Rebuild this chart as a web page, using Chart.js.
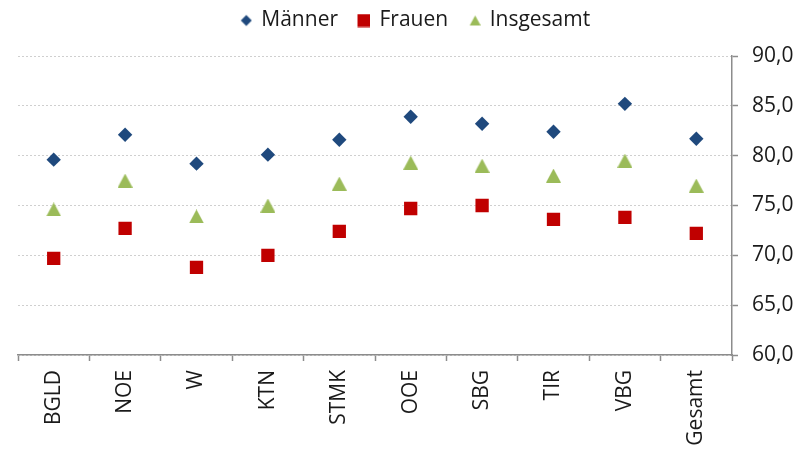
<!DOCTYPE html>
<html>
<head>
<meta charset="utf-8">
<script src="https://cdn.jsdelivr.net/npm/chart.js@4/dist/chart.umd.min.js"></script>
<style>
  html, body { margin: 0; padding: 0; background: #ffffff; }
  #wrap { width: 802px; height: 454px; }
</style>
</head>
<body>
<div id="wrap"><canvas id="c" width="802" height="454"></canvas></div>
<script>
// ---- data ----
const categories = ['BGLD', 'NOE', 'W', 'KTN', 'STMK', 'OOE', 'SBG', 'TIR', 'VBG', 'Gesamt'];
const maenner   = [79.6, 82.1, 79.2, 80.1, 81.6, 83.9, 83.2, 82.4, 85.2, 81.7];
const frauen    = [69.7, 72.7, 68.8, 70.0, 72.4, 74.7, 75.0, 73.6, 73.8, 72.2];
const insgesamt = [74.6, 77.5, 73.9, 75.0, 77.2, 79.3, 79.0, 78.0, 79.5, 77.0];
const seriesNames = ['Männer', 'Frauen', 'Insgesamt'];
const yMin = 60, yMax = 90, yStep = 5;

const FONT = "'Open Sans', sans-serif";
const TEXT = '#1a1a1a';
const AXIS = '#8c8c8c';
const colBlue = '#1f497d', colRed = '#c00000', colGreen = '#9bbb59';

// legend marker images (marker drawn at right side of a wider box)
function legendMarker(kind, color) {
  const c = document.createElement('canvas');
  c.width = 24; c.height = 14;
  const g = c.getContext('2d');
  g.fillStyle = color;
  g.beginPath();
  if (kind === 'diamond') {
    const cx = 18, cy = 7, r = 5.5;
    g.moveTo(cx, cy - r); g.lineTo(cx + r, cy); g.lineTo(cx, cy + r); g.lineTo(cx - r, cy); g.closePath();
  } else if (kind === 'square') {
    g.rect(11, 0.5, 13, 13);
  } else {
    g.moveTo(18.5, 2); g.lineTo(24, 12); g.lineTo(13, 12); g.closePath();
  }
  g.fill();
  return c;
}
const legendImgs = [legendMarker('diamond', colBlue), legendMarker('square', colRed), legendMarker('triangle', colGreen)];

// plot marker for the triangle series (box-centred like the original)
function triangleMarker(color) {
  const c = document.createElement('canvas');
  c.width = 15; c.height = 14;
  const g = c.getContext('2d');
  g.fillStyle = color;
  g.beginPath();
  g.moveTo(7.5, 0); g.lineTo(15, 14); g.lineTo(0, 14); g.closePath();
  g.fill();
  return c;
}
const triImg = triangleMarker(colGreen);

const legendSpacer = {
  id: 'legendSpacer',
  beforeLayout(chart) {
    const lg = chart.legend;
    if (lg && !lg._spaced) {
      const f = lg.fit;
      lg.fit = function () { f.call(this); this.height += 15; };
      lg._spaced = true;
    }
  }
};

new Chart(document.getElementById('c'), {
  type: 'line',
  data: {
    labels: categories,
    datasets: [
      { label: seriesNames[0], data: maenner, showLine: false, pointStyle: 'rectRot', pointRadius: 7.2, pointHoverRadius: 7.2,
        backgroundColor: colBlue, borderColor: colBlue, borderWidth: 0 },
      { label: seriesNames[1], data: frauen, showLine: false, pointStyle: 'rect', pointRadius: 9.4, pointHoverRadius: 9.4,
        backgroundColor: colRed, borderColor: colRed, borderWidth: 0 },
      { label: seriesNames[2], data: insgesamt, showLine: false, pointStyle: triImg, pointRadius: 8, pointHoverRadius: 8,
        backgroundColor: colGreen, borderColor: colGreen, borderWidth: 0 }
    ]
  },
  options: {
    responsive: false,
    animation: false,
    layout: { padding: { left: 18, right: 0, top: 0, bottom: 0 } },
    plugins: {
      tooltip: { enabled: false },
      legend: {
        position: 'top',
        labels: {
          usePointStyle: true,
          boxWidth: 24,
          boxHeight: 14,
          padding: 10,
          color: TEXT,
          font: { family: FONT, size: 21 },
          generateLabels(chart) {
            const items = Chart.defaults.plugins.legend.labels.generateLabels(chart);
            items.forEach((it, i) => { it.pointStyle = legendImgs[i]; it.lineWidth = 0; });
            return items;
          }
        }
      }
    },
    scales: {
      x: {
        type: 'category',
        offset: true,
        grid: { display: true, drawOnChartArea: false, drawTicks: true, tickLength: 6, tickColor: AXIS, tickWidth: 1.5, offset: true },
        border: { display: true, color: AXIS, width: 1.5 },
        ticks: { color: TEXT, font: { family: FONT, size: 21 }, maxRotation: 90, minRotation: 90, padding: 9, autoSkip: false },
        afterFit(s) { s.height = 99; }
      },
      y: {
        position: 'right',
        min: yMin, max: yMax,
        grid: { color: '#cfcfcf', lineWidth: 1, drawTicks: true, tickLength: 6, tickColor: AXIS, tickWidth: 1.5, tickBorderDash: [] },
        border: { display: true, color: AXIS, width: 1.5, dash: [2, 2] },
        ticks: {
          stepSize: yStep, color: TEXT, font: { family: FONT, size: 21 }, padding: 14,
          callback: v => v.toFixed(1).replace('.', ',')
        },
        afterFit(s) { s.width = 70; }
      }
    }
  },
  plugins: [legendSpacer]
});
</script>
</body>
</html>
